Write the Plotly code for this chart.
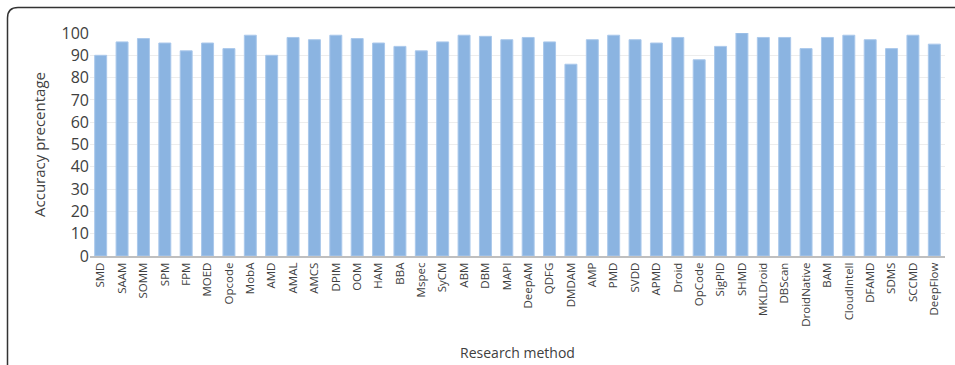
import plotly.graph_objects as go

methods = ["SMD", "SAAM", "SOMM", "SPM", "FPM", "MOED", "Opcode", "MobA", "AMD", "AMAL",
           "AMCS", "DPIM", "OOM", "HAM", "BBA", "Mspec", "SyCM", "ABM", "DBM", "MAPI",
           "DeepAM", "QDFG", "DMDAM", "AMP", "PMD", "SVDD", "APMD", "Droid", "OpCode", "SigPID",
           "SHMD", "MKLDroid", "DBScan", "DroidNative", "BAM", "CloudIntell", "DFAMD", "SDMS", "SCCMD", "DeepFlow"]
accuracy = [90, 96, 97.5, 95.5, 92, 95.5, 93, 99, 90, 98,
            97, 99, 97.5, 95.5, 94, 92, 96, 99, 98.5, 97,
            98, 96, 86, 97, 99, 97, 95.5, 98, 88, 94,
            100, 98, 98, 93, 98, 99, 97, 93, 99, 95]
y_ticks = [0, 10, 20, 30, 40, 50, 60, 70, 80, 90, 100]

W, H = 955, 365
ML, MR, MT, MB = 90, 10, 33, 109
PW = W - ML - MR
PH = H - MT - MB

def px(x):
    return (x - ML) / PW

def py(y):
    return (H - MB - y) / PH

fig = go.Figure(go.Bar(
    x=methods, y=accuracy,
    marker=dict(color="rgb(139,180,225)", line=dict(color="rgb(170,200,235)", width=1)),
))

frame = (f"M {px(7.5)},{py(370)} L {px(7.5)},{py(18)} "
         f"Q {px(7.5)},{py(7.5)} {px(18)},{py(7.5)} L {px(965)},{py(7.5)}")

fig.update_layout(
    width=W, height=H,
    margin=dict(l=ML, r=MR, t=MT, b=MB, autoexpand=False),
    paper_bgcolor="white", plot_bgcolor="white",
    bargap=0.44,
    showlegend=False,
    font=dict(family="Open Sans, Liberation Sans, sans-serif", color="#404040"),
    xaxis=dict(
        automargin=False,
        tickangle=-90, tickfont=dict(size=11.5, color="#404040"),
        showline=True, linecolor="#BFBFBF", linewidth=2,
        ticks="", showgrid=False,
        title=dict(text="Research method", font=dict(size=14, color="#404040"), standoff=22),
    ),
    yaxis=dict(
        automargin=False,
        range=[0, 100], tickvals=y_ticks,
        tickfont=dict(size=16, color="#404040"),
        showgrid=True, gridcolor="#EDEDED", gridwidth=1,
        zeroline=False, ticks="", ticklen=0,
        title=dict(text="Accuracy precentage", font=dict(size=15, color="#404040"), standoff=12),
    ),
    shapes=[dict(type="path", xref="paper", yref="paper", path=frame,
                 line=dict(color="#333333", width=1.5))],
)

fig.write_html("out.html", config={"displayModeBar": False},
               post_script="document.body.style.margin='0';document.body.style.overflow='hidden';")
